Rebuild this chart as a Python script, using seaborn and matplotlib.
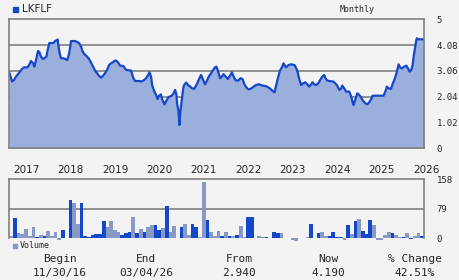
import numpy as np
import pandas as pd
import matplotlib
matplotlib.use("Agg")
import matplotlib.pyplot as plt
import seaborn as sns

# ---- data ----
ticker = "LKFLF"
# price: position in months since Dec 2016, value
t = [0.0, 0.19, 0.73, 1.27, 1.81, 2.35, 2.89, 3.43, 3.97, 4.87, 5.32, 5.86, 6.41, 6.77,
     7.22, 7.76, 8.12, 8.57, 9.11, 9.65, 10.01, 10.37, 10.82, 11.90, 12.35, 12.89, 13.07,
     13.34, 13.70, 13.97, 14.60, 15.14, 15.68, 16.05, 16.32, 16.68, 17.76, 18.48, 18.84,
     19.38, 19.74, 20.28, 20.91, 21.54, 22.08, 22.62, 23.16, 23.70, 24.24, 24.78, 25.32,
     25.86, 26.41, 26.95, 27.49, 28.03, 28.30, 28.84, 29.38, 29.92, 30.82, 31.54, 32.89,
     33.52, 33.97, 35.14, 35.68, 36.22, 36.95, 37.49, 37.85, 38.30, 38.57, 39.11, 39.65,
     40.01, 40.46, 40.91, 41.36, 41.90, 42.53, 43.07, 43.79, 44.33, 44.78, 45.14, 45.32,
     45.68, 45.95, 46.22, 46.59, 46.86, 47.13, 47.76, 48.30, 48.84, 49.38, 49.92, 50.46,
     51.00, 51.54, 51.81, 52.35, 52.89, 53.43, 53.97, 54.51, 55.05, 55.59, 55.95, 56.41,
     56.95, 57.40, 57.85, 58.48, 59.02, 59.56, 60.10, 60.64, 61.18, 61.90, 62.44, 62.98,
     63.52, 64.06, 64.60, 65.14, 65.86, 66.59, 67.31, 68.39, 69.47, 70.01, 70.55, 71.09,
     71.63, 71.99, 72.53, 73.07, 73.61, 74.06, 74.69, 75.41, 76.14, 77.04, 77.58, 77.94,
     78.30, 78.84, 79.38, 79.92, 80.46, 81.00, 81.54, 81.90, 82.35, 82.89, 83.43, 83.97,
     84.51, 85.05, 85.32, 85.86, 86.41, 87.49, 88.03, 88.57, 89.11, 89.65, 89.92, 90.46,
     91.00, 91.81, 92.35, 92.80, 92.98, 93.43, 93.97, 94.51, 95.05, 95.59, 96.14, 96.68,
     97.22, 97.76, 98.12, 101.09, 101.54, 101.99, 102.44, 103.07, 103.61, 104.15, 104.69,
     105.14, 105.59, 106.05, 106.68, 107.22, 107.67, 108.12, 108.57, 108.93, 109.20,
     109.56, 109.92, 110.10, 110.37, 112.0]
price = [3.00, 2.90, 2.64, 2.70, 2.83, 2.93, 3.03, 3.14, 3.20, 3.20, 3.29, 3.45, 3.36, 3.23,
         3.49, 3.85, 3.80, 3.62, 3.53, 3.58, 3.62, 3.89, 4.16, 4.16, 4.24, 4.28, 4.30,
         3.98, 3.69, 3.56, 3.56, 3.53, 3.49, 3.69, 3.89, 4.24, 4.24, 4.19, 4.16,
         4.02, 3.85, 3.72, 3.64, 3.53, 3.39, 3.23, 3.07, 2.97, 2.87, 2.79, 2.87,
         2.97, 3.10, 3.29, 3.36, 3.40, 3.45, 3.47, 3.39, 3.27, 3.25, 3.10, 3.07,
         2.77, 2.66, 2.66, 2.64, 2.68, 2.77, 2.90, 3.00, 2.83, 2.50, 2.27, 2.11,
         1.95, 2.08, 2.13, 1.91, 1.74, 1.91, 2.03, 2.07, 2.16, 2.31, 2.11, 1.77,
         1.48, 0.92, 1.48, 1.91, 2.24, 2.48, 2.60, 2.50, 2.44, 2.37, 2.35, 2.48,
         2.66, 2.83, 2.90, 2.70, 2.53, 2.70, 2.86, 2.97, 3.10, 3.20, 3.23, 3.03,
         2.77, 2.83, 2.93, 2.83, 2.74, 2.86, 3.00, 2.82, 2.68, 2.68, 2.77, 2.74,
         2.53, 2.40, 2.33, 2.35, 2.42, 2.50, 2.53, 2.48, 2.45, 2.40, 2.35, 2.27,
         2.21, 2.44, 2.77, 3.06, 3.20, 3.36, 3.20, 3.29, 3.32, 3.29, 3.14, 2.97,
         2.74, 2.50, 2.57, 2.61, 2.53, 2.44, 2.53, 2.61, 2.53, 2.50, 2.57, 2.70,
         2.83, 2.90, 2.79, 2.68, 2.66, 2.64, 2.57, 2.48, 2.31, 2.37, 2.48, 2.37,
         2.24, 2.24, 2.04, 1.78, 1.71, 1.91, 2.17, 2.11, 2.00, 1.87, 1.78, 1.74,
         1.82, 1.95, 2.08, 2.08, 2.24, 2.44, 2.37, 2.35, 2.57, 2.77, 3.03,
         3.32, 3.19, 3.16, 3.23, 3.27, 3.16, 3.03, 3.10, 3.29, 3.62,
         3.95, 4.28, 4.35, 4.31, 4.31]

# monthly volume, 'b' = up month (blue), 'g' = down month (grey)
volume = [6, 55, 13, 12, 25, 6, 29, 4, 9, 6, 20, 6, 17, -4, 22, 2, 103, 95, 38, 95,
          6, 4, 9, 12, 12, 46, 29, 46, 22, 17, 9, 14, 17, 57, 14, 25, 17, 30, 36, 36,
          22, 28, 87, 17, 33, 1, 30, 38, 9, 38, 30, 4, 151, 49, 17, 6, 20, 6, 17, 6,
          6, 9, 33, 4, 57, 57, 1, 6, 4, 4, 1, 17, 14, 14, 1, 1, -4, -6, 1, 1,
          4, 38, 1, 14, 17, 6, 6, 17, 4, 4, -4, 36, 12, 46, 52, 20, 12, 49, 36, -4,
          -4, 9, 17, 14, 9, 4, 4, 14, -3, 6, 14, 6]
updown = list("gbgggggbgb" "ggggbbbggb" "bbbbbbgggg" "bbbgbgbggb" "bgbgggbggb"
              "bggbgggbgb" "gbggbbgggb" "bbbggbggbb" "gbgbggbbbb" "gbgbgbbbgg"
              "gggbggbgbg" "gb")

year_labels = ["2017", "2018", "2019", "2020", "2021", "2022", "2023", "2024", "2025", "2026"]
year_months = [1, 13, 25, 37, 49, 61, 73, 85, 97, 109]

price_ticks = [0, 1.02, 2.04, 3.06, 4.08, 5.1]
price_ticklabels = ["0", "1.02", "2.04", "3.06", "4.08", "5"]
vol_ticks = [0, 79, 158]

footer_heads = ["Begin", "End", "From", "Now", "% Change"]
footer_vals = ["11/30/16", "03/04/26", "2.940", "4.190", "42.51%"]

# ---- style ----
BG = "#f3f3f3"
LINE = "#1448c8"
FILL = "#9bafdc"
GREY_BAR = "#8899c6"
GRID = "#808080"

sns.set_theme(style="white")
plt.rcParams["font.family"] = ["DejaVu Sans"]
mono = "DejaVu Sans Mono"

W, H = 460, 280
fig = plt.figure(figsize=(W / 100, H / 100), dpi=100, facecolor=BG)


def box(l, t_, r, b):
    return [l / W, 1 - b / H, (r - l) / W, (b - t_) / H]


ax = fig.add_axes(box(9.3, 19.3, 424, 148.3))
axv = fig.add_axes(box(9.3, 179.3, 424, 238.3))

for a in (ax, axv):
    a.set_facecolor(BG)
    for s in a.spines.values():
        s.set_color(GRID)
        s.set_linewidth(1.2)
        s.set_zorder(6)
    a.tick_params(left=False, right=False, bottom=False, labelleft=False, labelbottom=False)

# price panel: guide lines first, then the area and line on top of them
for y in price_ticks[1:-1]:
    ax.axhline(y, color=GRID, lw=1.2, zorder=2)
ax.fill_between(t, price, 0, color=FILL, lw=0, zorder=3)
sns.lineplot(x=t, y=price, ax=ax, color=LINE, lw=1.6, zorder=5)
ax.axhline(0, color="white", lw=1.0, zorder=4)
ax.set_xlim(0, 112)
ax.set_ylim(0, 5.1)
ax.set_ylabel("")
ax.set_xticks([])
ax.yaxis.tick_right()
ax.set_yticks(price_ticks)
ax.set_yticklabels(price_ticklabels, fontsize=6.5, family=mono)
ax.tick_params(axis="y", right=False, labelright=True, pad=3)

# volume panel
axv.axhline(vol_ticks[1], color=GRID, lw=1.2, zorder=2)
vol = pd.DataFrame({"m": np.arange(len(volume)) + 0.5, "v": volume, "c": updown})
axv.bar(vol["m"], vol["v"], width=1.0,
        color=[LINE if c == "b" else GREY_BAR for c in vol["c"]],
        lw=0, zorder=3, clip_on=False)
axv.set_xlim(0, 112)
axv.set_ylim(0, 158)
axv.set_xticks([])
axv.spines["bottom"].set_visible(False)
axv.yaxis.tick_right()
axv.set_yticks(vol_ticks)
axv.set_yticklabels([str(v) for v in vol_ticks], fontsize=6.5, family=mono)
axv.tick_params(axis="y", right=False, labelright=True, pad=3)

# year labels between the panels
for lab, m in zip(year_labels, year_months):
    xp = 9.3 + m * (414.7 / 112)
    fig.text(xp / W, 1 - 170 / H, lab, ha="left", va="center", fontsize=7.5)

# header
fig.patches.append(plt.Rectangle((13 / W, 1 - 12 / H), 4.5 / W, 4.5 / H,
                                 transform=fig.transFigure, color=LINE, zorder=3))
fig.text(22 / W, 1 - 9.5 / H, ticker, fontsize=7.5, va="center", ha="left")
fig.text(357 / W, 1 - 9 / H, "Monthly", fontsize=6, va="center", ha="center", family=mono)

# volume legend
fig.patches.append(plt.Rectangle((13 / W, 1 - 247.5 / H), 4 / W, 4 / H,
                                 transform=fig.transFigure, color=GREY_BAR, zorder=3))
fig.text(20 / W, 1 - 245.5 / H, "Volume", fontsize=6, va="center", ha="left", family=mono)

# footer
for xc, h, v in zip([60, 146, 239, 328, 415], footer_heads, footer_vals):
    fig.text(xc / W, 1 - 259 / H, h, fontsize=8, ha="center", va="center", family=mono)
    fig.text(xc / W, 1 - 273 / H, v, fontsize=8, ha="center", va="center", family=mono)

fig.savefig("out.png", dpi=100, facecolor=BG)
